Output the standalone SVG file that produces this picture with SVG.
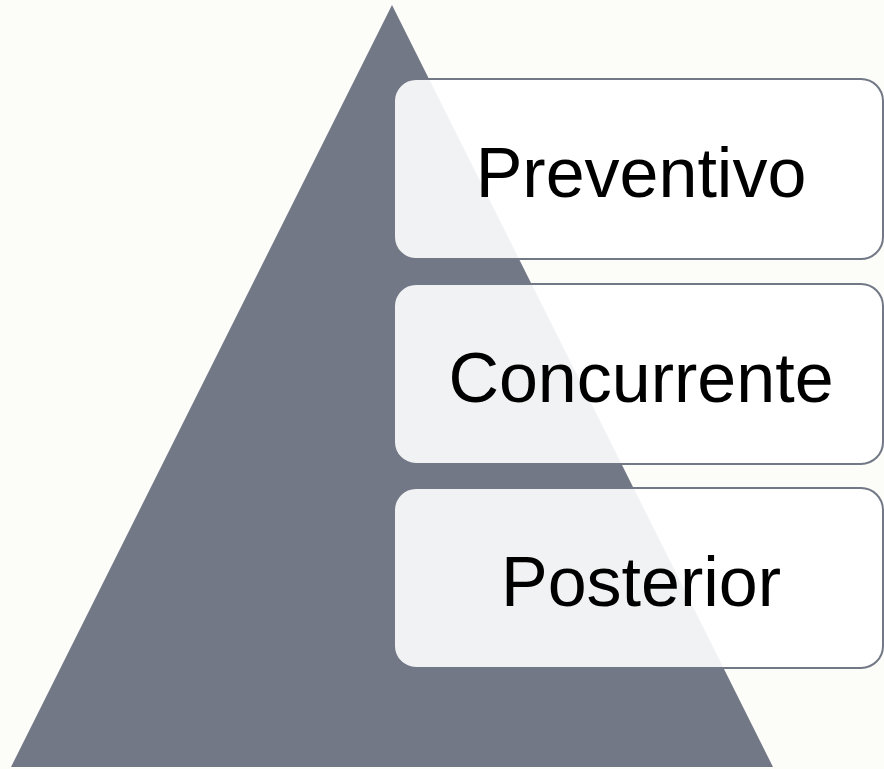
<svg xmlns="http://www.w3.org/2000/svg" width="884" height="769" viewBox="0 0 884 769">
<style>
.box{fill:#ffffff;fill-opacity:0.9;stroke:#737887;stroke-width:2}
.lbl{font-family:"Liberation Sans",Arial,sans-serif;font-size:70px;fill:#000;text-anchor:middle}
</style>
<rect width="884" height="769" fill="#fcfdf8"/>
<g id="pyramid">
<polygon points="392,5 773,767 11,767" fill="#737887"/>
</g>
<g id="connectors"></g>
<g id="node-preventivo">
<rect class="box" x="394" y="79" width="489" height="180" rx="22" ry="22"/>
<text class="lbl" x="641" y="197">Preventivo</text>
</g>
<g id="node-concurrente">
<rect class="box" x="394" y="284" width="489" height="180" rx="22" ry="22"/>
<text class="lbl" x="641" y="402">Concurrente</text>
</g>
<g id="node-posterior">
<rect class="box" x="394" y="488" width="489" height="180" rx="22" ry="22"/>
<text class="lbl" x="641" y="606">Posterior</text>
</g>
</svg>
